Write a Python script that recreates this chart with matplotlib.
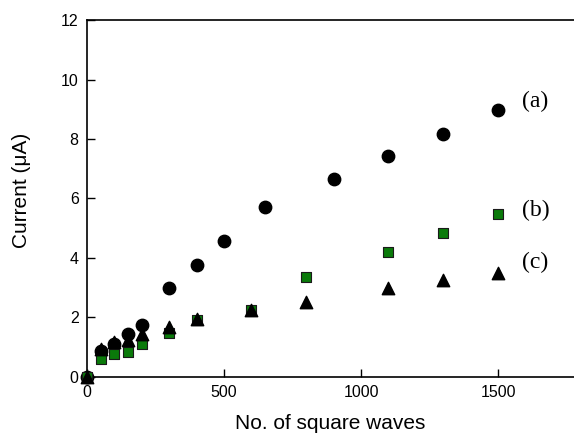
import numpy as np
import matplotlib.pyplot as plt

# (a) circles
xa = [0, 50, 100, 150, 200, 300, 400, 500, 650, 900, 1100, 1300, 1500]
ya = [0.0, 0.85, 1.1, 1.43, 1.74, 2.99, 3.75, 4.56, 5.72, 6.65, 7.42, 8.18, 8.98]

# (b) squares
xb = [0, 50, 100, 150, 200, 300, 400, 600, 800, 1100, 1300, 1500]
yb = [0.0, 0.59, 0.75, 0.83, 1.09, 1.46, 1.91, 2.23, 3.36, 4.21, 4.85, 5.47]

# (c) triangles
xc = [0, 50, 100, 150, 200, 300, 400, 600, 800, 1100, 1300, 1500]
yc = [0.0, 0.93, 1.18, 1.25, 1.44, 1.66, 1.93, 2.25, 2.51, 2.98, 3.26, 3.50]

fig = plt.figure(figsize=(5.74, 4.37), dpi=100)
ax = fig.add_axes([0.1516, 0.138, 0.8484, 0.816])

ax.scatter(xa, ya, s=80, marker='o', color='black', zorder=3, clip_on=False)
ax.scatter(xb, yb, s=55, marker='s', facecolor='#0a7a0a', edgecolor='#1a1a1a',
           linewidth=0.8, zorder=4, clip_on=False)
ax.scatter(xc, yc, s=80, marker='^', color='black', zorder=5, clip_on=False)

ax.set_xlim(0, 1777)
ax.set_ylim(0, 12)
ax.set_xticks([0, 500, 1000, 1500])
ax.set_yticks([0, 2, 4, 6, 8, 10, 12])

for s in ['left', 'bottom', 'top']:
    ax.spines[s].set_linewidth(1.2)
ax.spines['right'].set_visible(False)
ax.tick_params(direction='in', length=5.5, width=1, labelsize=11.5,
               top=False, right=False, pad=6)
for lab in ax.get_xticklabels() + ax.get_yticklabels():
    lab.set_family('Liberation Sans')

ax.set_xlabel('No. of square waves', fontsize=15, family='Liberation Sans', labelpad=10)
ax.set_ylabel('Current (μA)', fontsize=15, family='Liberation Sans', labelpad=17)
ax.yaxis.set_label_coords(-0.115, 0.522)

ax.text(1588, 9.25, '(a)', fontsize=17, family='Liberation Serif', va='center')
ax.text(1588, 5.6, '(b)', fontsize=17, family='Liberation Serif', va='center')
ax.text(1588, 3.83, '(c)', fontsize=17, family='Liberation Serif', va='center')

fig.savefig('out.png', dpi=100)
